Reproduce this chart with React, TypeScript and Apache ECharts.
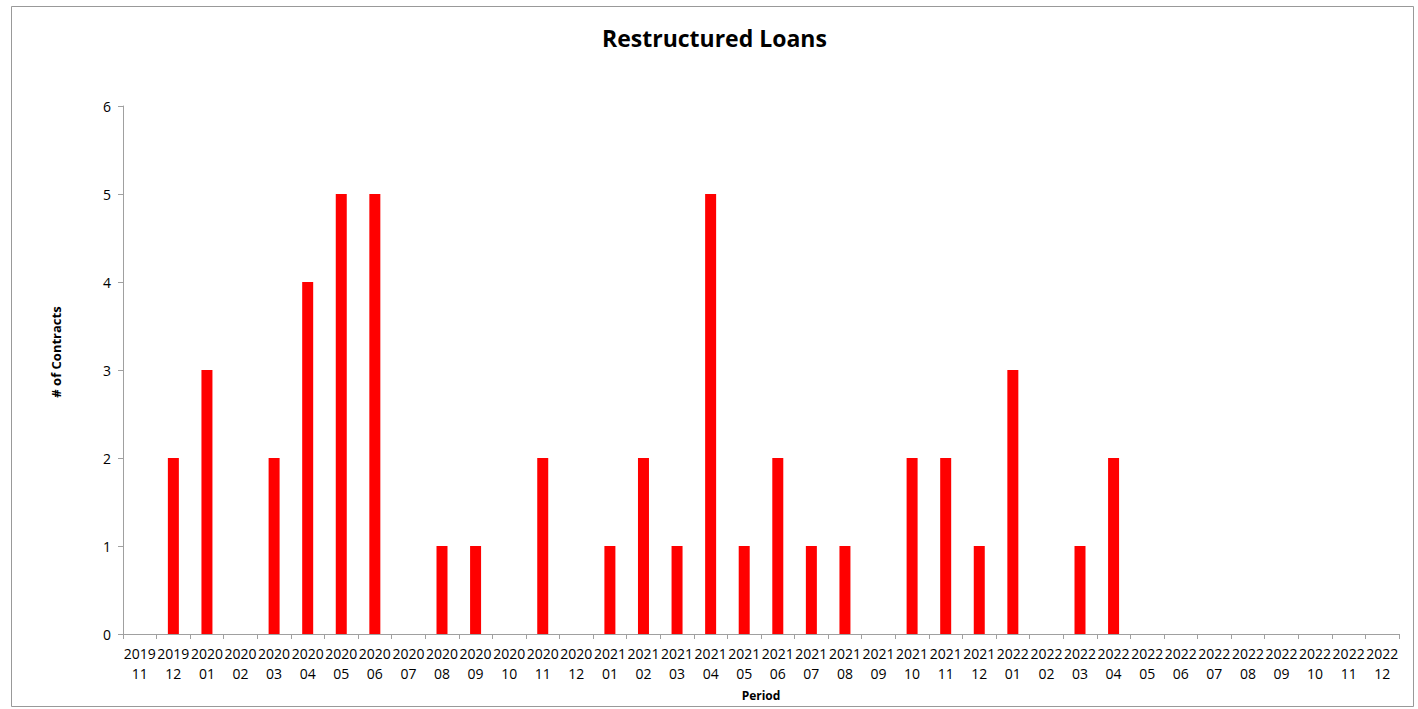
import React, { useEffect, useRef } from "react";
import * as echarts from "echarts";

const categories = [
  "2019\n11", "2019\n12",
  "2020\n01", "2020\n02", "2020\n03", "2020\n04", "2020\n05", "2020\n06",
  "2020\n07", "2020\n08", "2020\n09", "2020\n10", "2020\n11", "2020\n12",
  "2021\n01", "2021\n02", "2021\n03", "2021\n04", "2021\n05", "2021\n06",
  "2021\n07", "2021\n08", "2021\n09", "2021\n10", "2021\n11", "2021\n12",
  "2022\n01", "2022\n02", "2022\n03", "2022\n04", "2022\n05", "2022\n06",
  "2022\n07", "2022\n08", "2022\n09", "2022\n10", "2022\n11", "2022\n12",
];

const contracts = [
  0, 2,
  3, 0, 2, 4, 5, 5, 0, 1, 1, 0, 2, 0,
  1, 2, 1, 5, 1, 2, 1, 1, 0, 2, 2, 1,
  3, 0, 1, 2, 0, 0, 0, 0, 0, 0, 0, 0,
];

const FONT = "'Open Sans', 'Noto Sans', sans-serif";

export default function App() {
  const ref = useRef<HTMLDivElement>(null);
  useEffect(() => {
    if (!ref.current) return;
    const chart = echarts.init(ref.current, null, { renderer: "svg" });
    chart.setOption({
      animation: false,
      backgroundColor: "#ffffff",
      title: {
        text: "Restructured Loans",
        left: 597,
        top: 21,
        textStyle: { fontFamily: FONT, fontSize: 23, fontWeight: "bold", color: "#000" },
      },
      graphic: [
        {
          type: "rect",
          shape: { x: 11.5, y: 6.5, width: 1402, height: 700 },
          style: { fill: "none", stroke: "#999999", lineWidth: 1 },
          silent: true,
          z: -1,
        },
        {
          type: "text",
          x: 56,
          y: 352,
          rotation: Math.PI / 2,
          style: {
            text: "# of Contracts",
            fontFamily: FONT,
            fontSize: 13,
            fontWeight: "bold",
            fill: "#000",
            align: "center",
            verticalAlign: "middle",
          },
        },
      ],
      grid: { left: 123, right: 19, top: 106, bottom: 75 },
      xAxis: {
        type: "category",
        data: categories,
        name: "Period",
        nameLocation: "middle",
        nameGap: 55,
        nameTextStyle: { fontFamily: FONT, fontSize: 12, fontWeight: "bold", color: "#000" },
        axisLine: { lineStyle: { color: "#a0a0a0" } },
        axisTick: { show: true, alignWithLabel: false, length: 5, lineStyle: { color: "#a0a0a0" } },
        axisLabel: {
          interval: 0,
          fontFamily: FONT,
          fontSize: 14,
          color: "#000",
          lineHeight: 20,
          margin: 9,
        },
      },
      yAxis: {
        type: "value",
        min: 0,
        max: 6,
        interval: 1,
        axisLine: { show: true, lineStyle: { color: "#a0a0a0" } },
        axisTick: { show: true, length: 5, lineStyle: { color: "#a0a0a0" } },
        splitLine: { show: false },
        axisLabel: { fontFamily: FONT, fontSize: 14, color: "#000", margin: 12 },
      },
      series: [
        {
          type: "bar",
          data: contracts,
          barWidth: 11,
          itemStyle: { color: "#ff0000" },
        },
      ],
    });
    return () => chart.dispose();
  }, []);
  return (
    <div
      ref={ref}
      style={{ position: "fixed", left: 0, top: 0, width: 1418, height: 709 }}
    />
  );
}
